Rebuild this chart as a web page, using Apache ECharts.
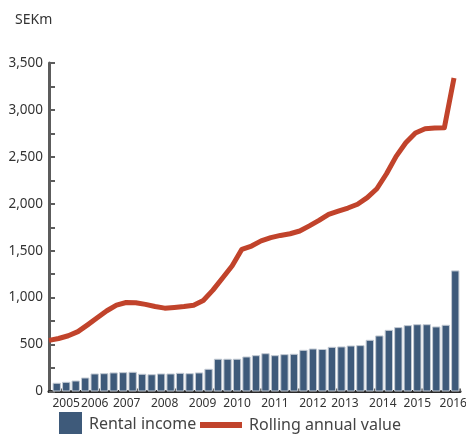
<!DOCTYPE html>
<html>
<head>
<meta charset="utf-8">
<script src="https://cdn.jsdelivr.net/npm/echarts@6/dist/echarts.min.js"></script>
<style>
  html, body { margin: 0; padding: 0; background: #ffffff; }
  #chart { width: 466px; height: 434px; }
</style>
</head>
<body>
<div id="chart"></div>
<script>
// Quarterly rental income, SEKm
const rentalIncome = [
  93, 103, 117, 149, 192, 195, 203, 206, 210, 189, 184, 192, 192, 199, 195,
  203, 242, 349, 349, 349, 373, 387, 408, 387, 398, 402, 444, 458, 453, 476,
  480, 490, 494, 551, 597, 657, 686, 707, 717, 717, 693, 711, 1290
];

// Rolling annual value, SEKm
const rollingAnnual = [
  545, 565, 594, 638, 710, 785, 860, 920, 948, 945, 928, 905, 888, 896, 906,
  920, 970, 1080, 1210, 1340, 1515, 1550, 1605, 1640, 1663, 1681, 1710, 1765, 1823, 1888,
  1922, 1955, 1995, 2065, 2160, 2320, 2505, 2650, 2755, 2800, 2807, 2810, 3340
];

// Year labels along the time axis and the quarter each one sits under
const yearLabels = ['2005', '2006', '2007', '2008', '2009', '2010', '2011', '2012', '2013', '2014', '2015', '2016'];
const yearLabelIndex = [1, 4, 7, 11, 15, 19, 23, 27, 30, 34, 38, 42];
// Quarter boundaries that carry a small tick on the time axis
const yearTickIndex = [1, 5, 9, 13, 17, 22, 26, 30, 34, 39, 43];

const periods = rentalIncome.map((_, i) => String(i));

const yMin = 0, yMax = 3500, yStep = 250, yLabelStep = 500;

const FONT = 'Noto Sans';
const AXIS_GREY = '#5c5c5c';
const TEXT = '#333333';

// Labels that sit between two quarters get nudged half a band right;
// the last one is pulled in slightly so it stays inside the canvas
const halfStep = [7, 11, 15, 30, 34];
const lastIndex = rentalIncome.length - 1;

const chart = echarts.init(document.getElementById('chart'), null, { renderer: 'canvas' });

chart.setOption({
  animation: false,
  backgroundColor: '#ffffff',
  textStyle: { fontFamily: FONT },
  title: {
    text: 'SEKm',
    left: 15,
    top: 13,
    padding: 0,
    textStyle: { fontFamily: FONT, fontSize: 14, fontWeight: 'normal', color: TEXT }
  },
  legend: [
    {
      data: ['Rental income'],
      left: 59,
      top: 412,
      padding: 0,
      icon: 'rect',
      itemWidth: 23,
      itemHeight: 24,
      itemStyle: { borderWidth: 0 },
      textStyle: { fontFamily: FONT, fontSize: 16, color: '#444444', padding: [0, 0, 0, 2] }
    },
    {
      data: ['Rolling annual value'],
      left: 200,
      top: 417,
      padding: 0,
      icon: 'rect',
      itemWidth: 42,
      itemHeight: 6,
      textStyle: { fontFamily: FONT, fontSize: 16, color: '#444444', padding: [0, 0, 0, 2] }
    }
  ],
  grid: [
    { left: 52, right: 6, top: 63, bottom: 42.5, containLabel: false, outerBoundsMode: 'none' },
    { left: 49, right: 12, top: 63, bottom: 42.5, containLabel: false, outerBoundsMode: 'none' }
  ],
  xAxis: [
    {
      type: 'category',
      gridIndex: 0,
      data: periods,
      boundaryGap: true,
      axisLine: { show: true, lineStyle: { color: '#2b2b2b', width: 3 } },
      axisTick: {
        show: true,
        inside: true,
        length: 3,
        lineStyle: { color: AXIS_GREY, width: 2 },
        interval: (idx) => yearTickIndex.includes(idx)
      },
      axisLabel: {
        show: true,
        margin: 6,
        fontSize: 12,
        color: TEXT,
        showMinLabel: true,
        showMaxLabel: true,
        hideOverlap: false,
        interval: (idx) => yearLabelIndex.includes(idx),
        formatter: (value, idx) => {
          const k = yearLabelIndex.indexOf(idx);
          if (k < 0) return '';
          if (halfStep.includes(idx)) return '{s|' + yearLabels[k] + '}';
          if (idx === lastIndex) return '{e|' + yearLabels[k] + '}';
          return yearLabels[k];
        },
        rich: {
          s: { fontSize: 12, color: TEXT, fontFamily: FONT, padding: [0, 0, 0, 7] },
          e: { fontSize: 12, color: TEXT, fontFamily: FONT, padding: [0, 4, 0, 0] }
        }
      },
      splitLine: { show: false }
    },
    {
      type: 'category',
      gridIndex: 1,
      data: periods,
      boundaryGap: false,
      axisLine: { show: true, lineStyle: { color: '#2b2b2b', width: 3 } },
      axisTick: { show: false },
      axisLabel: { show: false },
      splitLine: { show: false }
    }
  ],
  yAxis: [
    {
      type: 'value',
      gridIndex: 0,
      min: yMin,
      max: yMax,
      interval: yStep,
      show: false
    },
    {
      type: 'value',
      gridIndex: 1,
      min: yMin,
      max: yMax,
      interval: yStep,
      axisLine: { show: true, lineStyle: { color: AXIS_GREY, width: 3 } },
      axisTick: { show: true, inside: true, length: 6, lineStyle: { color: AXIS_GREY, width: 2 } },
      axisLabel: {
        margin: 6,
        fontSize: 13.5,
        color: TEXT,
        formatter: (v) => (v % yLabelStep === 0 ? v.toLocaleString('en-US') : '')
      },
      splitLine: { show: false }
    }
  ],
  series: [
    {
      name: 'Rental income',
      type: 'bar',
      xAxisIndex: 0,
      yAxisIndex: 0,
      data: rentalIncome,
      barCategoryGap: '12%',
      itemStyle: { color: '#3e5a7a', borderColor: '#c3cad3', borderWidth: 1 },
      z: 2
    },
    {
      name: 'Rolling annual value',
      type: 'line',
      xAxisIndex: 1,
      yAxisIndex: 1,
      data: rollingAnnual,
      symbol: 'none',
      lineStyle: { color: '#c1432b', width: 5, join: 'round', cap: 'butt' },
      itemStyle: { color: '#c1432b' },
      z: 4
    }
  ]
});
</script>
</body>
</html>
